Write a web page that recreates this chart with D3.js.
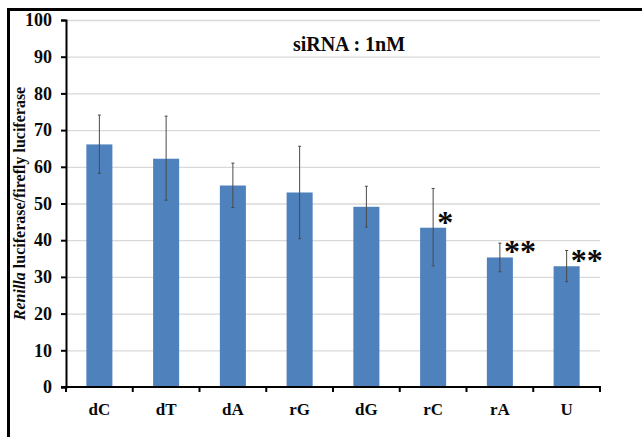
<!DOCTYPE html>
<html>
<head>
<meta charset="utf-8">
<script src="https://cdn.jsdelivr.net/npm/d3@7"></script>
<style>
  html, body { margin: 0; padding: 0; background: #fff; }
  svg { display: block; }
  text { font-family: "Liberation Serif", "Times New Roman", serif; font-weight: bold; fill: #0a0a0a; }
</style>
</head>
<body>
<script>
// Luciferase ratio for each siRNA modification (1 nM)
const categories = ["dC", "dT", "dA", "rG", "dG", "rC", "rA", "U"];
const means      = [66.1, 62.2, 54.9, 53.0, 49.1, 43.4, 35.3, 32.9];
const errLow     = [58.2, 50.9, 48.9, 40.4, 43.6, 33.0, 31.4, 28.7];
const errHigh    = [74.1, 73.8, 61.0, 65.6, 54.7, 54.1, 39.2, 37.2];
const marks      = ["", "", "", "", "", "*", "**", "**"];
const yTicks     = [0, 10, 20, 30, 40, 50, 60, 70, 80, 90, 100];
const title      = "siRNA : 1nM";

const W = 642, H = 437;
const margin = { left: 66, right: 42, top: 20, bottom: 50 };

const svg = d3.select("body").append("svg").attr("width", W).attr("height", H);

// Outer frame (top and left edges)
svg.append("line").attr("x1", 8).attr("x2", W).attr("y1", 9.5).attr("y2", 9.5)
  .attr("stroke", "#000").attr("stroke-width", 3);
svg.append("line").attr("x1", 8.5).attr("x2", 8.5).attr("y1", 8).attr("y2", H)
  .attr("stroke", "#000").attr("stroke-width", 3);

const x = d3.scaleBand().domain(categories)
  .range([margin.left, W - margin.right]).paddingInner(0.61).paddingOuter(0.305);
const y = d3.scaleLinear().domain([0, 100]).range([H - margin.bottom, margin.top]);

// Gridlines
svg.append("g").selectAll("line").data(yTicks.filter(d => d > 0)).join("line")
  .attr("x1", margin.left).attr("x2", W - margin.right)
  .attr("y1", d => y(d) + 0.5).attr("y2", d => y(d) + 0.5)
  .attr("stroke", "#d9d9d9").attr("stroke-width", 1.3);

// Bars
svg.append("g").selectAll("rect").data(categories).join("rect")
  .attr("x", d => x(d)).attr("width", x.bandwidth())
  .attr("y", (d, i) => y(means[i])).attr("height", (d, i) => y(0) - y(means[i]))
  .attr("fill", "#4f81bd");

// Error bars
const eb = svg.append("g").attr("stroke", "#4a4a4a").attr("stroke-width", 1);
categories.forEach((c, i) => {
  const cx = x(c) + x.bandwidth() / 2;
  eb.append("line").attr("x1", cx).attr("x2", cx).attr("y1", y(errHigh[i])).attr("y2", y(errLow[i]));
  eb.append("line").attr("x1", cx - 1.5).attr("x2", cx + 1.5).attr("y1", y(errHigh[i])).attr("y2", y(errHigh[i]));
  eb.append("line").attr("x1", cx - 1.5).attr("x2", cx + 1.5).attr("y1", y(errLow[i])).attr("y2", y(errLow[i]));
});

// Significance markers, beside the top of each bar
svg.append("g").selectAll("text").data(categories).join("text")
  .attr("x", d => x(d) + x.bandwidth() / 2 + 4)
  .attr("y", (d, i) => y(means[i]) + 5)
  .attr("font-size", 32).attr("letter-spacing", 0)
  .text((d, i) => marks[i]);

// X axis
const xAxis = svg.append("g").attr("transform", `translate(0,${y(0)})`);
xAxis.append("line").attr("x1", margin.left - 5).attr("x2", W - margin.right + 1)
  .attr("stroke", "#000").attr("stroke-width", 2);
const bounds = d3.range(categories.length + 1).map(i => margin.left + i * x.step());
xAxis.selectAll(".tk").data(bounds).join("line")
  .attr("x1", d => d).attr("x2", d => d).attr("y1", 0).attr("y2", 5)
  .attr("stroke", "#000").attr("stroke-width", 2);
xAxis.selectAll("text").data(categories).join("text")
  .attr("x", d => x(d) + x.bandwidth() / 2).attr("y", 28)
  .attr("text-anchor", "middle").attr("font-size", 17).text(d => d);

// Y axis
const yAxis = svg.append("g").attr("transform", `translate(${margin.left},0)`)
  .call(d3.axisLeft(y).tickValues(yTicks).tickSize(5).tickPadding(9));
yAxis.select(".domain").attr("stroke", "#000").attr("stroke-width", 2);
yAxis.selectAll(".tick line").attr("stroke", "#000").attr("stroke-width", 2);
yAxis.selectAll(".tick text").attr("font-size", 18).attr("font-family", "Liberation Serif")
  .attr("font-weight", "bold").attr("fill", "#0a0a0a");

// Y axis title
const yt = svg.append("text")
  .attr("transform", `translate(25,${(y(0) + y(100)) / 2 + 0}) rotate(-90)`)
  .attr("text-anchor", "middle").attr("font-size", 16);
yt.append("tspan").attr("font-style", "italic").text("Renilla");
yt.append("tspan").text(" luciferase/firefly luciferase");

// Title
svg.append("text").attr("x", 349).attr("y", 51).attr("text-anchor", "middle")
  .attr("font-size", 20).text(title);
</script>
</body>
</html>
